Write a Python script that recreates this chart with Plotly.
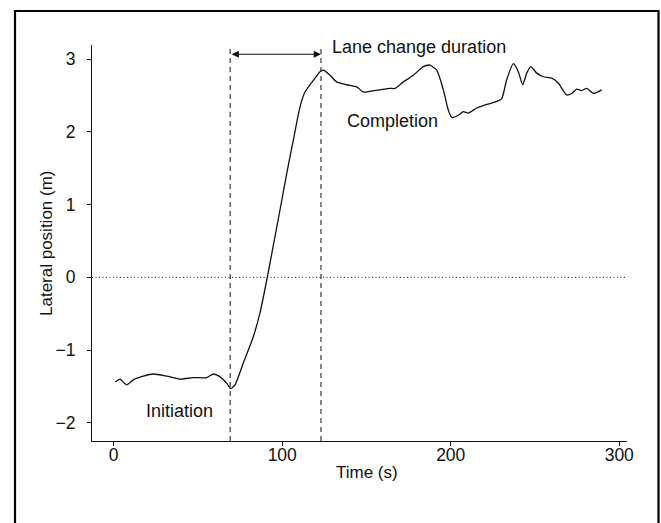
import plotly.graph_objects as go

# ---- data ----
time_s = [1, 3.7, 7.7, 11.6, 17.6, 23.5, 31.5, 39.3, 47.2, 55.2, 59.1, 63.1, 67.1, 69.4, 72,
          76.9, 82.8, 86.8, 90.8, 98.7, 102.7, 106.6, 110.6, 113.5, 116.5, 119.5, 122.4, 124.4,
          128.4, 132.3, 138.3, 144.2, 148.1, 152.1, 158, 163.9, 166.9, 171.9, 177.8, 183.7,
          187.7, 191.7, 195.6, 198.6, 200.6, 204.5, 207.5, 210.4, 215.4, 221.4, 227.3, 230.3,
          233.2, 237.2, 240.1, 242.7, 245.1, 247.5, 251, 255, 260, 263.9, 268.8, 271.8, 274.8,
          277.7, 280.7, 284.6, 289.6]
lateral_m = [-1.44, -1.40, -1.48, -1.41, -1.36, -1.33, -1.36, -1.40, -1.38, -1.38, -1.33, -1.37,
             -1.46, -1.53, -1.48, -1.18, -0.82, -0.49, -0.04, 0.93, 1.43, 1.89, 2.35, 2.55, 2.65,
             2.74, 2.83, 2.85, 2.78, 2.69, 2.65, 2.62, 2.55, 2.56, 2.58, 2.60, 2.60, 2.69, 2.78,
             2.90, 2.92, 2.85, 2.58, 2.30, 2.20, 2.23, 2.28, 2.26, 2.33, 2.38, 2.42, 2.46, 2.72,
             2.94, 2.83, 2.65, 2.81, 2.90, 2.81, 2.76, 2.74, 2.67, 2.51, 2.53, 2.59, 2.57, 2.60,
             2.53, 2.58]

x_ticks = [0, 100, 200, 300]
y_ticks = [-2, -1, 0, 1, 2, 3]

initiation_t = 69.1
completion_t = 123.0
arrow_y = 3.07

x_range = [-12.88, 304.6]
y_range = [-2.252, 3.197]

FONT = "Liberation Sans, Arial, Helvetica, sans-serif"
INK = "#111111"

fig = go.Figure()
fig.add_trace(go.Scatter(
    x=time_s, y=lateral_m, mode="lines",
    line=dict(color=INK, width=1.3, shape="spline", smoothing=0.6),
    hoverinfo="skip", showlegend=False,
))

axis_common = dict(
    showline=True, linecolor=INK, linewidth=1, mirror=False,
    ticks="outside", ticklen=4, tickwidth=1, tickcolor=INK,
    showgrid=False, zeroline=False,
    tickfont=dict(family=FONT, size=17.5, color=INK),
)

fig.update_layout(
    width=661, height=523,
    margin=dict(l=92, r=34, t=45, b=82, pad=0),
    paper_bgcolor="white", plot_bgcolor="white",
    font=dict(family=FONT, size=17, color=INK),
    xaxis=dict(range=x_range, tickvals=x_ticks, ticklabelstandoff=-6, **axis_common),
    yaxis=dict(range=y_range, tickvals=y_ticks, ticklabelstandoff=8, **axis_common),
    showlegend=False,
)

# zero reference line (dotted)
fig.add_shape(type="line", xref="x", yref="y", x0=x_range[0], x1=x_range[1], y0=0, y1=0,
              line=dict(color=INK, width=1, dash="1px,2.5px"))
# lane-change boundaries (dashed)
for t in (initiation_t, completion_t):
    fig.add_shape(type="line", xref="x", yref="y domain", x0=t, x1=t, y0=0, y1=1,
                  line=dict(color=INK, width=1, dash="5px,4px"))

# double-headed arrow
fig.add_annotation(x=completion_t, y=arrow_y, ax=initiation_t, ay=arrow_y,
                   xref="x", yref="y", axref="x", ayref="y", text="",
                   showarrow=True, arrowside="end+start", arrowhead=2,
                   arrowsize=1.2, arrowwidth=1.2, arrowcolor=INK)

fig.add_annotation(x=128.4, y=3.17, xref="x", yref="y", text="Lane change duration",
                   showarrow=False, xanchor="left", yanchor="middle",
                   font=dict(family=FONT, size=18, color=INK))
fig.add_annotation(x=137.2, y=2.155, xref="x", yref="y", text="Completion",
                   showarrow=False, xanchor="left", yanchor="middle",
                   font=dict(family=FONT, size=18, color=INK))
fig.add_annotation(x=18.2, y=-1.835, xref="x", yref="y", text="Initiation",
                   showarrow=False, xanchor="left", yanchor="middle",
                   font=dict(family=FONT, size=18, color=INK))

# axis titles
fig.add_annotation(x=(367 - 92) / 535, y=(441 - 472) / 396, xref="paper", yref="paper",
                   text="Time (s)", showarrow=False, xanchor="center", yanchor="middle",
                   font=dict(family=FONT, size=17, color=INK))
fig.add_annotation(x=(46 - 92) / 535, y=0.5, xref="paper", yref="paper",
                   text="Lateral position (m)", showarrow=False, textangle=-90,
                   xanchor="center", yanchor="middle",
                   font=dict(family=FONT, size=17, color=INK))

# outer frame
fig.add_shape(type="rect", xref="paper", yref="paper",
              x0=(15 - 92) / 535, x1=(658.5 - 92) / 535,
              y0=(441 - 530) / 396, y1=(441 - 11) / 396,
              line=dict(color="black", width=2.2), fillcolor="rgba(0,0,0,0)")

fig.write_html("out.html")
